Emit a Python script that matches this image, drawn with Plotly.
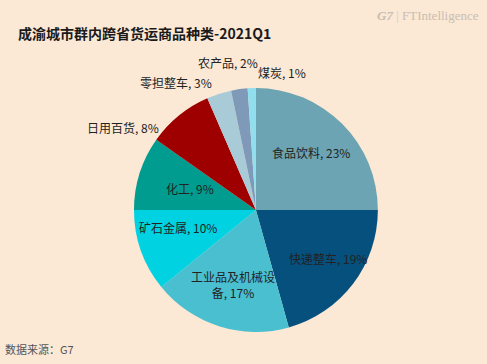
import plotly.graph_objects as go

categories = ["食品饮料", "快递整车", "工业品及机械设备", "矿石金属", "化工", "日用百货", "零担整车", "农产品", "煤炭"]
values = [23, 19, 17, 10, 9, 8, 3, 2, 1]
label_text = ["食品饮料, 23%", "快递整车, 19%", "工业品及机械设<br>备, 17%", "矿石金属, 10%", "化工, 9%",
              "日用百货, 8%", "零担整车, 3%", "农产品, 2%", "煤炭, 1%"]
colors = ["#6CA4B3", "#06507E", "#4ABFD0", "#00D2E2", "#009C8F", "#9E0000", "#A9CBD8", "#7F9AB8", "#90DEEE"]
# data-label text positions in px (as in the reference)
label_pos = [(311, 152), (328, 258), (233, 284), (178, 227), (190, 188),
             (123, 127), (176, 83), (228, 62), (282, 73)]

FONT = "Noto Sans CJK SC"
BG = "#FBE8D5"
W, H = 487, 364

fig = go.Figure(go.Pie(
    labels=categories,
    values=values,
    textposition="none",
    sort=False,
    direction="clockwise",
    rotation=0,
    marker=dict(colors=colors, line=dict(width=0)),
    showlegend=False,
    hoverinfo="label+value",
    domain=dict(x=[0.275, 0.776], y=[0.088, 0.758]),
))

annotations = [
    dict(text="<b>成渝城市群内跨省货运商品种类-2021Q1</b>", x=16, y=33,
         xanchor="left", yanchor="middle",
         font=dict(family=FONT, size=14, color="#1a1a1a")),
    dict(text="数据来源：G7", x=3, y=349, xanchor="left", yanchor="middle",
         font=dict(family=FONT, size=11, color="#555555")),
    dict(text="<b><i>G7</i></b> <span style='color:#d8cdbf'>|</span> FTIntelligence", x=481, y=16,
         xanchor="right", yanchor="middle",
         font=dict(family="Liberation Serif", size=13, color="#c9beb1")),
]
for txt, (px, py) in zip(label_text, label_pos):
    annotations.append(dict(text=txt, x=px, y=py, xanchor="center", yanchor="middle",
                            font=dict(family=FONT, size=12, color="#222222")))

for a in annotations:
    a.update(xref="paper", yref="paper", showarrow=False, x=a["x"] / W, y=1 - a["y"] / H)

fig.update_layout(
    width=W, height=H,
    margin=dict(l=0, r=0, t=0, b=0),
    paper_bgcolor=BG, plot_bgcolor=BG,
    annotations=annotations,
)

fig.write_html("out.html", config={"displayModeBar": False},
               post_script="document.body.style.margin='0';")
